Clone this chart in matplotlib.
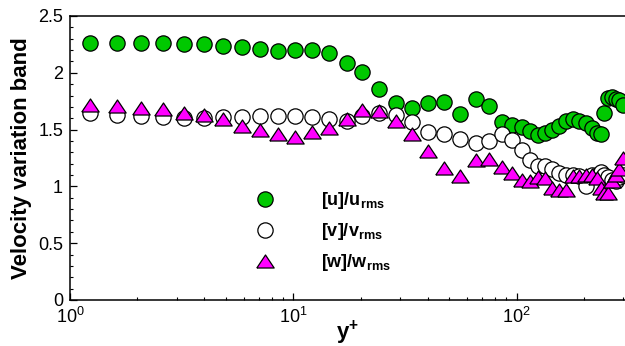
import matplotlib
matplotlib.use("Agg")
import matplotlib.pyplot as plt
import matplotlib.ticker as ticker

plt.rcParams['font.family'] = ['Liberation Sans', 'DejaVu Sans']
plt.rcParams['mathtext.fontset'] = 'custom'
plt.rcParams['mathtext.rm'] = 'Liberation Sans'
plt.rcParams['mathtext.bf'] = 'Liberation Sans:bold'

# y+ positions of the samples
yplus = [1.229, 1.619, 2.080, 2.609, 3.240, 3.982, 4.845, 5.892, 7.095, 8.543,
         10.18, 12.12, 14.45, 17.31, 20.31, 24.20, 28.75, 33.90, 40.0, 47.3,
         55.8, 65.8, 75.2, 85.8, 95.7, 105.7, 114.8, 124.7, 134.1, 144.1,
         154.9, 166.4, 178.9, 191.2, 204.6, 217.7, 229.1, 238.8, 246.3, 256.7,
         267.5, 277.4, 288.9, 301.1]

u_band = [2.26, 2.26, 2.26, 2.26, 2.25, 2.25, 2.24, 2.23, 2.21, 2.19,
          2.20, 2.20, 2.17, 2.09, 2.01, 1.86, 1.73, 1.69, 1.73, 1.74,
          1.64, 1.77, 1.71, 1.565, 1.54, 1.52, 1.485, 1.45, 1.47, 1.50,
          1.535, 1.575, 1.595, 1.58, 1.56, 1.515, 1.47, 1.46, 1.65, 1.78,
          1.79, 1.77, 1.76, 1.72]

v_band = [1.65, 1.63, 1.62, 1.61, 1.60, 1.60, 1.61, 1.61, 1.62, 1.62,
          1.62, 1.61, 1.595, 1.575, 1.62, 1.65, 1.63, 1.57, 1.48, 1.465,
          1.42, 1.38, 1.40, 1.465, 1.41, 1.32, 1.235, 1.18, 1.18, 1.15,
          1.12, 1.10, 1.10, 1.09, 1.00, 1.10, 1.10, 1.13, 1.10, 1.08,
          1.06, 1.05, 1.08, 1.10]

w_band = [1.72, 1.71, 1.69, 1.68, 1.65, 1.63, 1.59, 1.535, 1.50, 1.46,
          1.435, 1.48, 1.515, 1.59, 1.67, 1.66, 1.58, 1.465, 1.31, 1.16,
          1.09, 1.23, 1.24, 1.17, 1.12, 1.06, 1.045, 1.08, 1.07, 0.985,
          0.97, 0.97, 1.09, 1.095, 1.10, 1.10, 1.07, 0.985, 0.94, 0.94,
          1.045, 1.10, 1.15, 1.25]

labels = [r"$\mathbf{[u]/u_{rms}}$", r"$\mathbf{[v]/v_{rms}}$", r"$\mathbf{[w]/w_{rms}}$"]

tri = [(-1, -0.75), (1, -0.75), (0, 0.75), (-1, -0.75)]

fig = plt.figure(figsize=(6.25, 3.46), dpi=100)
ax = fig.add_axes([70 / 625, 1 - 300 / 346, 1 - 70 / 625, (300 - 16) / 346])

ax.plot(yplus, u_band, ls='none', marker='o', ms=11, mfc='#00c800', mec='black',
        mew=0.9, label=labels[0])
ax.plot(yplus, v_band, ls='none', marker='o', ms=11, mfc='white', mec='black',
        mew=0.9, label=labels[1])
ax.plot(yplus, w_band, ls='none', marker=tri, ms=12.5, mfc='#ff00ff', mec='black',
        mew=0.9, label=labels[2])

ax.set_xscale('log')
ax.set_xlim(1, 305.8)
ax.set_ylim(0, 2.5)
ax.yaxis.set_major_locator(ticker.MultipleLocator(0.5))
ax.yaxis.set_minor_locator(ticker.MultipleLocator(0.1))
ax.yaxis.set_major_formatter(ticker.FormatStrFormatter('%g'))

ax.tick_params(which='both', direction='in', top=False, right=False, labelsize=13)
ax.tick_params(which='major', length=5, width=0.9)
ax.tick_params(which='minor', length=2.5, width=0.8)
ax.tick_params(axis='y', pad=5)
ax.tick_params(axis='x', pad=5)
for side in ['left', 'bottom', 'top']:
    ax.spines[side].set_linewidth(1.1)
ax.spines['right'].set_visible(False)

ax.set_ylabel('Velocity variation band', fontsize=16, fontweight='bold', labelpad=4)
ax.set_xlabel(r"$\mathbf{y^{+}}$", fontsize=16, labelpad=-6)

ax.legend(loc='upper left', bbox_to_anchor=(256 / 625, 1 - 190 / 346),
          bbox_transform=fig.transFigure, frameon=False, fontsize=13,
          handlelength=1.0, handletextpad=2.6, borderpad=0, borderaxespad=0,
          labelspacing=0.55)

fig.savefig('out.png', dpi=100)
